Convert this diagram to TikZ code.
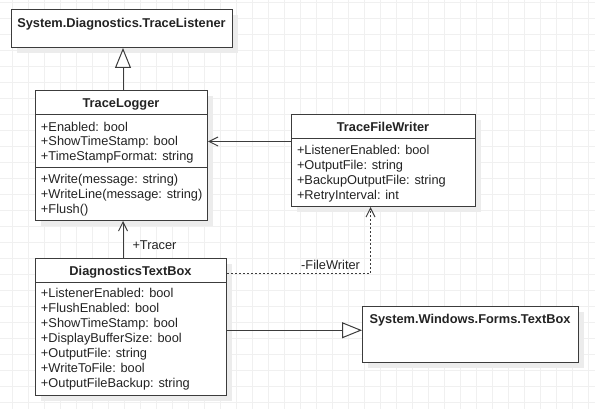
\documentclass[tikz,border=0pt]{standalone}
\usepackage{fontspec}
\setmainfont{Liberation Sans}
\usetikzlibrary{arrows.meta,shadows}

\definecolor{umlline}{RGB}{60,60,60}
\definecolor{umltext}{RGB}{35,35,35}
\definecolor{gridgray}{RGB}{240,240,240}
\definecolor{shadowgray}{RGB}{236,236,236}

\tikzset{every picture/.style={line width=1pt}}
\tikzset{
  gridline/.style={draw=gridgray, line width=0.8pt, step=16},
  classbox/.style={draw=umlline, fill=white, anchor=north west, inner sep=0pt,
    drop shadow={shadow xshift=5.5pt, shadow yshift=-5.5pt, fill=shadowgray, opacity=1}},
  classtitle/.style={anchor=base, inner sep=0pt, text=umltext, font=\fontsize{12.8}{14.9}\selectfont\bfseries},
  members/.style={anchor=north west, inner sep=0pt, align=left, text=umltext, font=\fontsize{12.8}{14.9}\selectfont},
  rolelabel/.style={inner sep=0pt, text=umltext, font=\fontsize{12.8}{14.9}\selectfont},
  inherit/.style={draw=umlline, -{Triangle[length=20pt, width=16pt, fill=white]}},
  assoc/.style={draw=umlline, -{Straight Barb[length=9pt, width=9pt]}},
  depend/.style={assoc, dash pattern=on 2pt off 2pt},
}

\begin{document}
\begin{tikzpicture}[x=1pt,y=1pt,yscale=-1,xscale=1]
\useasboundingbox (0,0) rectangle (595,409);
%Background grid
\draw[gridline, shift={(12,2)}] (-12,-2) grid (583,407);

%Shape: Class TraceListener
\node[classbox, minimum width=221pt, minimum height=38pt] (listener) at (11,9) {};
%Shape: Class TraceLogger
\node[classbox, minimum width=172pt, minimum height=130pt] (logger) at (35,90) {};
\draw[umlline] (logger.west |- 0,115) -- (logger.east |- 0,115);
\draw[umlline] (logger.west |- 0,167.5) -- (logger.east |- 0,167.5);
%Shape: Class TraceFileWriter
\node[classbox, minimum width=184pt, minimum height=92pt] (writer) at (291,114) {};
\draw[umlline] (writer.west |- 0,138.5) -- (writer.east |- 0,138.5);
%Shape: Class DiagnosticsTextBox
\node[classbox, minimum width=191pt, minimum height=136.5pt] (diagbox) at (35,258) {};
\draw[umlline] (diagbox.west |- 0,282.5) -- (diagbox.east |- 0,282.5);
%Shape: Class TextBox
\node[classbox, minimum width=215.5pt, minimum height=56pt] (formsbox) at (362,306) {};

%Straight Lines: TraceLogger is a TraceListener
\draw[inherit] ([xshift=1.5pt]logger.north) -- ([xshift=1.5pt]logger.north |- listener.south);
%Straight Lines: TraceFileWriter to TraceLogger
\draw[assoc] ([yshift=-19pt]writer.west) -- ([yshift=-19pt]writer.west -| logger.east);
%Straight Lines: DiagnosticsTextBox to TraceLogger
\draw[assoc] ([xshift=-8pt]diagbox.north) -- ([xshift=-8pt]diagbox.north |- logger.south)
  node[rolelabel, pos=0.34, anchor=west, xshift=9pt] (tracer) {+Tracer};
%Dotted Lines: DiagnosticsTextBox to TraceFileWriter
\draw[depend] ([yshift=15.3pt]diagbox.north east) -| ([xshift=-13pt]writer.south)
  node[rolelabel, pos=0.5, anchor=south east, xshift=-10pt, yshift=3pt] (filewriter) {-FileWriter};
%Straight Lines: DiagnosticsTextBox is a TextBox
\draw[inherit] ([yshift=3.5pt]diagbox.east) -- ([yshift=3.5pt]diagbox.east -| formsbox.west);

% Text Node
\node[classtitle] (listenertitle) at (121.5,27.3) {System.Diagnostics.TraceListener};
% Text Node
\node[classtitle] (loggertitle) at (121,107.3) {TraceLogger};
% Text Node
\node[members] (loggerattr) at (40.5,121.3) {+Enabled: bool\\+ShowTimeStamp: bool\\+TimeStampFormat: string};
% Text Node
\node[members] (loggerops) at (40.5,173.8) {+Write(message: string)\\+WriteLine(message: string)\\+Flush()};
% Text Node
\node[classtitle] (writertitle) at (383,131.3) {TraceFileWriter};
% Text Node
\node[members] (writerattr) at (296.5,144.8) {+ListenerEnabled: bool\\+OutputFile: string\\+BackupOutputFile: string\\+RetryInterval: int};
% Text Node
\node[classtitle] (diagtitle) at (130.5,275.3) {DiagnosticsTextBox};
% Text Node
\node[members] (diagattr) at (40.5,288.2) {+ListenerEnabled: bool\\+FlushEnabled: bool\\+ShowTimeStamp: bool\\+DisplayBufferSize: bool\\+OutputFile: string\\+WriteToFile: bool\\+OutputFileBackup: string};
% Text Node
\node[classtitle] (formstitle) at (470,323.9) {System.Windows.Forms.TextBox};

\end{tikzpicture}
\end{document}
